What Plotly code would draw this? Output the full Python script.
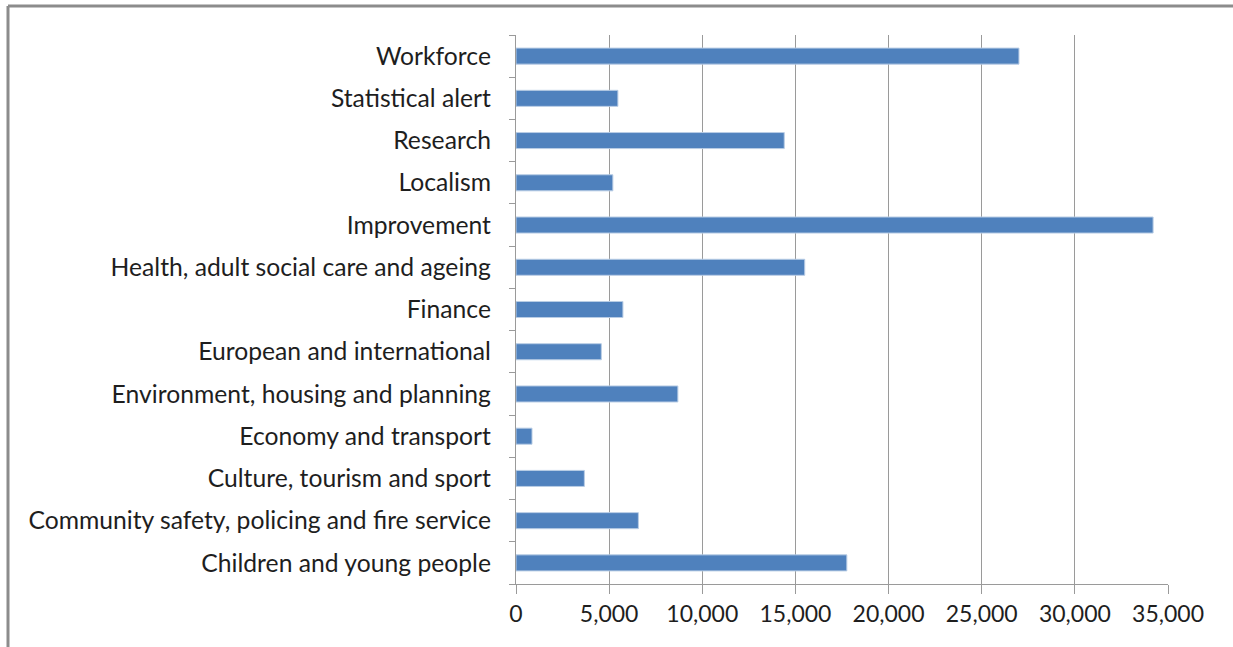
import plotly.graph_objects as go

categories = [
    "Children and young people",
    "Community safety, policing and fire service",
    "Culture, tourism and sport",
    "Economy and transport",
    "Environment, housing and planning",
    "European and international",
    "Finance",
    "Health, adult social care and ageing",
    "Improvement",
    "Localism",
    "Research",
    "Statistical alert",
    "Workforce",
]
values = [17760, 6570, 3670, 860, 8690, 4580, 5740, 15500, 34200, 5200, 14400, 5470, 27000]
x_ticks = [0, 5000, 10000, 15000, 20000, 25000, 30000, 35000]

W, H = 1233, 647
L, R, T, B = 516, 1168, 35, 584

fig = go.Figure(go.Bar(
    x=values, y=categories, orientation="h",
    marker=dict(color="#4f81bd", line=dict(color="#b9cde5", width=1)),
    width=0.38,
))

def px(xp):
    return (xp - L) / (R - L)

def py(yp):
    return (B - yp) / (B - T)

gray = "#8c8c8c"
fig.add_shape(type="line", xref="paper", yref="paper",
              x0=px(8), x1=px(8), y0=py(6), y1=py(647),
              line=dict(color=gray, width=3))
fig.add_shape(type="line", xref="paper", yref="paper",
              x0=px(8), x1=px(1233), y0=py(6), y1=py(6),
              line=dict(color=gray, width=3))

font = "Lato, 'Open Sans', sans-serif"
axc = "#9a9a9a"
fig.update_layout(
    width=W, height=H,
    margin=dict(l=L, r=W - R, t=T, b=H - B, autoexpand=False),
    paper_bgcolor="white", plot_bgcolor="white",
    showlegend=False,
    font=dict(family=font, size=24, color="#1e1e1e"),
    xaxis=dict(
        range=[0, 35000], tickvals=x_ticks,
        ticktext=[f"{v:,}" for v in x_ticks],
        tickfont=dict(size=23),
        showgrid=True, gridcolor=axc, gridwidth=1.2,
        showline=True, linecolor=axc, linewidth=1.2,
        ticks="outside", ticklen=9, tickcolor=axc,
        zeroline=False, fixedrange=True,
    ),
    yaxis=dict(
        type="category", categoryorder="array", categoryarray=categories,
        tickfont=dict(size=24.7),
        showline=True, linecolor=axc, linewidth=1.2,
        ticks="outside", ticklen=6, tickcolor=axc, tickson="boundaries",
        showgrid=False, ticklabelstandoff=19, range=[-0.5, 12.5],
    ),
)

fig.write_html(
    "out.html",
    config={"displayModeBar": False},
    post_script=(
        "document.body.style.margin='0px';"
        "document.body.style.overflow='hidden';"
        "document.documentElement.style.overflow='hidden';"
    ),
)
